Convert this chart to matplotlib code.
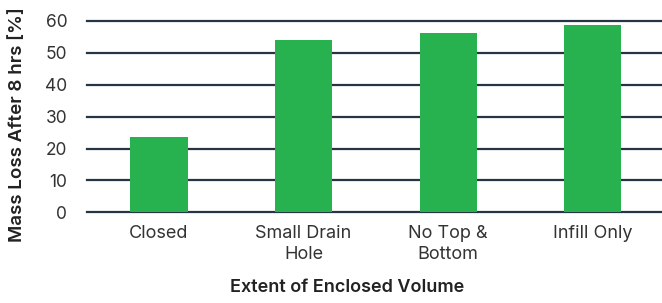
import matplotlib
matplotlib.use("Agg")
import matplotlib.pyplot as plt

categories = ["Closed", "Small Drain\nHole", "No Top &\nBottom", "Infill Only"]
mass_loss = [23.5, 54.0, 56.2, 58.6]
y_ticks = [0, 10, 20, 30, 40, 50, 60]

plt.rcParams['font.family'] = ['Inter', 'DejaVu Sans']

fig = plt.figure(figsize=(6.62, 3.03), dpi=100)
ax = fig.add_axes([0.131, 0.299, 0.869, 0.632])

ax.bar(range(len(categories)), mass_loss, width=0.395, color="#27b24f", zorder=3)
ax.set_xlim(-0.5, 3.48)
ax.set_ylim(0, 60)
ax.set_yticks(y_ticks)
ax.set_xticks(range(len(categories)))
ax.set_xticklabels(categories, fontsize=13, linespacing=1.3)
for y in y_ticks:
    ax.axhline(y, color="#263545", lw=1.6, zorder=1, clip_on=False)
for s in ax.spines.values():
    s.set_visible(False)
ax.tick_params(axis='both', length=0, labelcolor="#333333")
ax.tick_params(axis='y', pad=14, labelsize=12.5)
ax.tick_params(axis='x', pad=9)

fig.text(0.524, 0.05, "Extent of Enclosed Volume", ha="center", va="center",
         fontsize=13, fontweight="semibold", color="#222222")
fig.text(0.027, 0.59, "Mass Loss After 8 hrs [%]", ha="center", va="center",
         rotation=90, fontsize=13.5, fontweight="semibold", color="#222222")

fig.savefig("out.png", dpi=100)
